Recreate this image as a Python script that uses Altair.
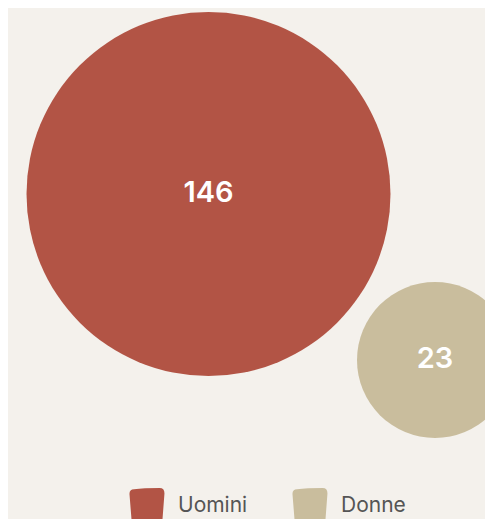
import altair as alt
import pandas as pd

categorie = ["Uomini", "Donne"]
valori = [146, 23]
colori = ["#b25445", "#c9bd9d"]

df = pd.DataFrame({"categoria": categorie, "valore": valori})

blob = ("M -0.72 -0.93 Q -0.2 -1.0 0.7 -1 Q 0.97 -1 0.97 -0.7 "
        "L 0.86 0.75 Q 0.84 1 0.6 1 L -0.6 1 Q -0.84 1 -0.86 0.75 "
        "L -0.97 -0.62 Q -1 -0.93 -0.72 -0.93 Z")

x = alt.X("categoria:N", scale=alt.Scale(type="point", domain=categorie, range=[200.5, 427], padding=0), axis=None)
y = alt.Y("categoria:N", scale=alt.Scale(type="point", domain=categorie, range=[186, 352], padding=0), axis=None)

color = alt.Color(
    "categoria:N",
    scale=alt.Scale(domain=categorie, range=colori),
    legend=alt.Legend(
        title=None,
        orient="none",
        direction="horizontal",
        legendX=121,
        legendY=480,
        symbolType=blob,
        symbolSize=1296,
        symbolStrokeWidth=0,
        symbolOpacity=1,
        labelFont="Inter",
        labelFontSize=21,
        labelColor="#555555",
        labelOffset=13,
        columnPadding=44,
        padding=0,
    ),
)

circles = alt.Chart(df).mark_circle(opacity=1, stroke=None).encode(
    x=x,
    y=y,
    color=color,
    size=alt.Size("valore:Q", scale=alt.Scale(domain=[23, 146], range=[24336, 132496]), legend=None),
)

labels = alt.Chart(df).mark_text(
    font="Inter", fontSize=29, fontWeight=600, color="white", baseline="middle", align="center", dy=-1
).encode(x=x, y=y, text="valore:Q")

chart = (circles + labels).properties(
    width=477, height=511, padding=0, autosize=alt.AutoSizeParams(type="none"),
    background="#f4f1ec",
).configure_view(stroke=None)

chart.save("out.html", embed_options={"renderer": "svg", "actions": False})
